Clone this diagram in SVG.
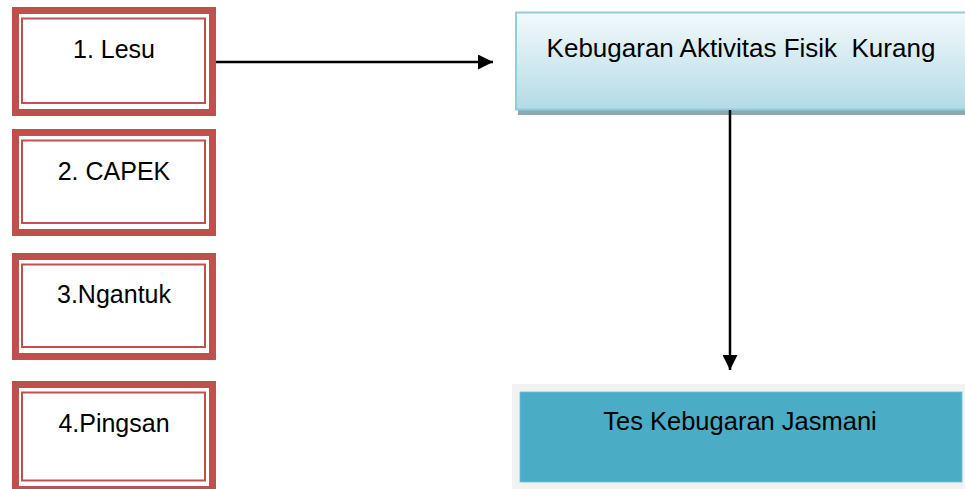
<svg xmlns="http://www.w3.org/2000/svg" width="965" height="489" viewBox="0 0 965 489">
<defs>
<style>
.outer{fill:#c0504d}
.gap{fill:#ffffff}
.inner{fill:#ffffff;stroke:#c0504d;stroke-width:2}
.lbl{font-family:"Liberation Sans",Arial,sans-serif;font-size:25px;fill:#000;text-anchor:middle;white-space:pre}
.conn{stroke:#000;stroke-width:2.5;fill:none}
</style>
<linearGradient id="g1" x1="0" y1="0" x2="0" y2="1">
<stop offset="0" stop-color="#f3f9fb"/>
<stop offset="1" stop-color="#b3dbe6"/>
</linearGradient>
<marker id="ah" viewBox="0 0 10 10" refX="10" refY="5" markerWidth="15" markerHeight="15" markerUnits="userSpaceOnUse" orient="auto">
<path d="M0,0 L10,5 L0,10 Z" fill="#000"/>
</marker>
</defs>
<rect width="965" height="489" fill="#fff"/>
<g id="n1">
<rect class="outer" x="12" y="7" width="204" height="109"/>
<rect class="gap" x="19" y="14" width="190" height="95"/>
<rect class="inner" x="22" y="18.5" width="183" height="84.5"/>
<text class="lbl" x="114" y="58">1. Lesu</text>
</g>
<g id="n2">
<rect class="outer" x="12" y="129" width="204" height="107"/>
<rect class="gap" x="19" y="136" width="190" height="93"/>
<rect class="inner" x="22" y="140.5" width="183" height="82.5"/>
<text class="lbl" x="114" y="180">2. CAPEK</text>
</g>
<g id="n3">
<rect class="outer" x="12" y="253" width="204" height="107"/>
<rect class="gap" x="19" y="260" width="190" height="93"/>
<rect class="inner" x="22" y="264.5" width="183" height="82.5"/>
<text class="lbl" x="114" y="303">3.Ngantuk</text>
</g>
<g id="n4">
<rect class="outer" x="12" y="381" width="204" height="112"/>
<rect class="gap" x="19" y="388" width="190" height="98"/>
<rect class="inner" x="22" y="392.5" width="183" height="88"/>
<text class="lbl" x="114" y="432">4.Pingsan</text>
</g>
<g id="n5">
<rect x="518" y="15" width="450" height="100" fill="#8ea8b1"/>
<rect x="516" y="12.5" width="452" height="97" fill="url(#g1)" stroke="#92cddc" stroke-width="2"/>
<text class="lbl" x="741" y="57" xml:space="preserve" style="font-size:26px">Kebugaran Aktivitas Fisik  Kurang</text>
</g>
<g id="n6">
<rect x="512" y="384" width="453" height="105" fill="#f2f2f2"/>
<rect x="520" y="392" width="442" height="90" fill="#4bacc6" stroke="#6fbfd3" stroke-width="0.8"/>
<text class="lbl" x="740" y="430" style="font-size:25.5px">Tes Kebugaran Jasmani</text>
</g>
<g id="connectors">
<line class="conn" x1="216" y1="62" x2="493" y2="62" marker-end="url(#ah)"/>
<line class="conn" x1="730" y1="110" x2="730" y2="370" marker-end="url(#ah)"/>
</g>
</svg>
